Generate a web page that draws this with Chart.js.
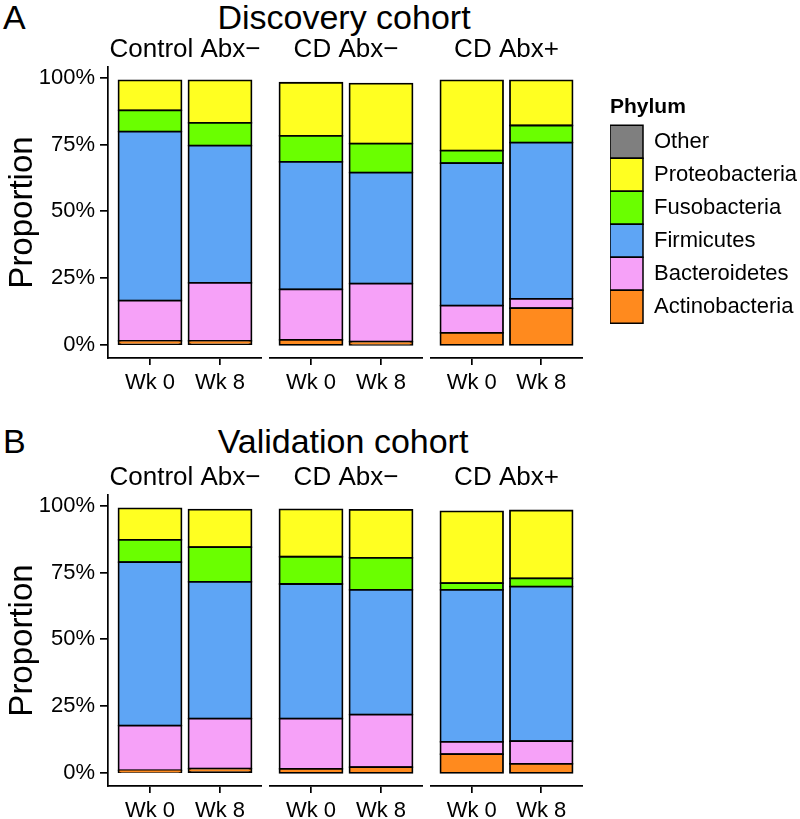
<!DOCTYPE html>
<html>
<head>
<meta charset="utf-8">
<script src="https://cdn.jsdelivr.net/npm/chart.js@4.4.0/dist/chart.umd.min.js"></script>
<style>
  body { margin: 0; background: #fff; }
  #wrap { position: relative; width: 800px; height: 819px; background: #fff; font-family: "Liberation Sans", Arial, sans-serif; color: #000; }
  #wrap canvas { position: absolute; }
  .big { position: absolute; font-size: 34px; line-height: 34px; white-space: nowrap; }
  .ttl { text-align: center; }
</style>
</head>
<body>
<div id="wrap">
  <div class="big" style="left:3px;top:0px">A</div>
  <div class="big ttl" style="left:0;width:688px;top:0px">Discovery cohort</div>
  <div class="big" style="left:3px;top:424px">B</div>
  <div class="big ttl" style="left:0;width:686px;top:424px">Validation cohort</div>

  <canvas id="a0" width="262" height="380" style="left:0;top:20px"></canvas>
  <canvas id="a1" width="154" height="380" style="left:269px;top:20px"></canvas>
  <canvas id="a2" width="153" height="380" style="left:430px;top:20px"></canvas>
  <canvas id="b0" width="262" height="380" style="left:0;top:448px"></canvas>
  <canvas id="b1" width="154" height="380" style="left:269px;top:448px"></canvas>
  <canvas id="b2" width="153" height="380" style="left:430px;top:448px"></canvas>
  <canvas id="leg" width="189" height="260" style="left:610px;top:95px"></canvas>
</div>
<script>
// stacking order, bottom to top
const phyla = ['Actinobacteria', 'Bacteroidetes', 'Firmicutes', 'Fusobacteria', 'Proteobacteria', 'Other'];
const colors = ['#FF8A1E', '#F6A1F8', '#5EA5F5', '#6AFF00', '#FFFF21', '#7F7F7F'];
const groups = ['Control Abx\u2212', 'CD Abx\u2212', 'CD Abx+'];
const weeks = ['Wk 0', 'Wk 8'];
const yTicks = [0, 25, 50, 75, 100];

// percent, order: Control Wk0, Control Wk8, CD- Wk0, CD- Wk8, CD+ Wk0, CD+ Wk8
const discActino  = [1.5, 1.5, 1.9, 1.2, 4.5, 13.8];
const discBactero = [15.1, 21.7, 18.9, 21.7, 10.2, 3.4];
const discFirmi   = [63.2, 51.4, 47.7, 41.6, 53.3, 58.5];
const discFuso    = [8.0, 8.5, 9.7, 10.8, 4.7, 6.4];
const discProteo  = [11.2, 15.9, 19.9, 22.5, 26.3, 16.9];
const discOther   = [0, 0, 0, 0, 0, 0];

const valActino  = [0.9, 1.6, 1.5, 2.2, 7.0, 3.4];
const valBactero = [16.8, 18.7, 18.8, 19.6, 4.6, 8.5];
const valFirmi   = [61.2, 51.2, 50.4, 46.7, 56.9, 57.8];
const valFuso    = [8.3, 13.0, 10.2, 12.0, 2.5, 3.1];
const valProteo  = [11.8, 14.0, 17.7, 17.9, 26.9, 25.4];
const valOther   = [0, 0, 0, 0, 0, 0];

const discovery = [discActino, discBactero, discFirmi, discFuso, discProteo, discOther];
const validation = [valActino, valBactero, valFirmi, valFuso, valProteo, valOther];

Chart.defaults.font.family = '"Liberation Sans", Arial, sans-serif';
Chart.defaults.color = '#000';

const edge = 1.8; // bar outline

function facet(id, values, g) {
    const showY = g === 0;
    new Chart(document.getElementById(id), {
        type: 'bar',
        data: {
            datasets: phyla.map((p, k) => ({
                label: p,
                // empty segments are left out, so they draw no outline
                data: weeks.map((w, j) => {
                    const v = values[k][g * 2 + j];
                    return { x: j + 1, y: v > 0 ? v : null };
                }),
                backgroundColor: colors[k],
                borderColor: '#000',
                borderWidth: edge,
                borderSkipped: false,
                inflateAmount: edge / 2,
                categoryPercentage: 1,
                barPercentage: 0.9
            }))
        },
        options: {
            responsive: false,
            animation: false,
            layout: { padding: 0 },
            plugins: {
                legend: { display: false },
                tooltip: { enabled: false },
                title: {
                    display: true,
                    text: groups[g],
                    fullSize: false,
                    color: '#000',
                    font: { size: 26, weight: 'normal', lineHeight: 1.2 },
                    padding: { top: 14.4, bottom: 1.4 }
                }
            },
            scales: {
                x: {
                    type: 'linear',
                    stacked: true,
                    offset: false,
                    min: 0.4,
                    max: 2.6,
                    afterBuildTicks: s => { s.ticks = weeks.map((w, j) => ({ value: j + 1 })); },
                    afterFit: s => { s.height = 42; },
                    ticks: {
                        callback: v => weeks[v - 1],
                        font: { size: 22 },
                        color: '#000',
                        padding: 5,
                        maxRotation: 0,
                        autoSkip: false
                    },
                    grid: { offset: false, drawOnChartArea: false, tickLength: 7, color: '#000', lineWidth: 1.7 },
                    border: { display: true, color: '#000', width: 1.7 }
                },
                y: {
                    stacked: true,
                    display: showY,
                    min: -4.9,
                    max: 104,
                    afterBuildTicks: s => { s.ticks = yTicks.map(v => ({ value: v })); },
                    afterFit: s => { if (showY) s.width = 108; },
                    ticks: {
                        callback: v => v + '%',
                        font: { size: 22 },
                        color: '#000',
                        padding: 5
                    },
                    grid: { drawOnChartArea: false, tickLength: 8, color: '#000', lineWidth: 1.7 },
                    border: { display: true, color: '#000', width: 1.7 },
                    title: {
                        display: true,
                        text: 'Proportion',
                        color: '#000',
                        font: { size: 33, lineHeight: 1.2 },
                        padding: { top: 3, bottom: 0 }
                    }
                }
            }
        }
    });
}

for (let g = 0; g < groups.length; g++) {
    facet('a' + g, discovery, g);
    facet('b' + g, validation, g);
}

// shared legend
new Chart(document.getElementById('leg'), {
    type: 'bar',
    data: {
        labels: [],
        datasets: phyla.map((p, k) => ({
            label: p,
            data: [],
            backgroundColor: colors[k],
            borderColor: '#000',
            borderWidth: 1.5
        }))
    },
    options: {
        responsive: false,
        animation: false,
        layout: { padding: 0 },
        scales: { x: { display: false }, y: { display: false } },
        plugins: {
            tooltip: { enabled: false },
            legend: {
                display: true,
                position: 'left',
                align: 'start',
                reverse: true,
                maxWidth: 189,
                labels: {
                    boxWidth: 33,
                    boxHeight: 33,
                    padding: 0,
                    color: '#000',
                    font: { size: 22 }
                },
                title: {
                    display: true,
                    text: 'Phylum',
                    position: 'start',
                    color: '#000',
                    font: { size: 21, weight: 'bold', lineHeight: 1.2 },
                    padding: { top: 2, bottom: 3 }
                }
            }
        }
    }
});
</script>
</body>
</html>
